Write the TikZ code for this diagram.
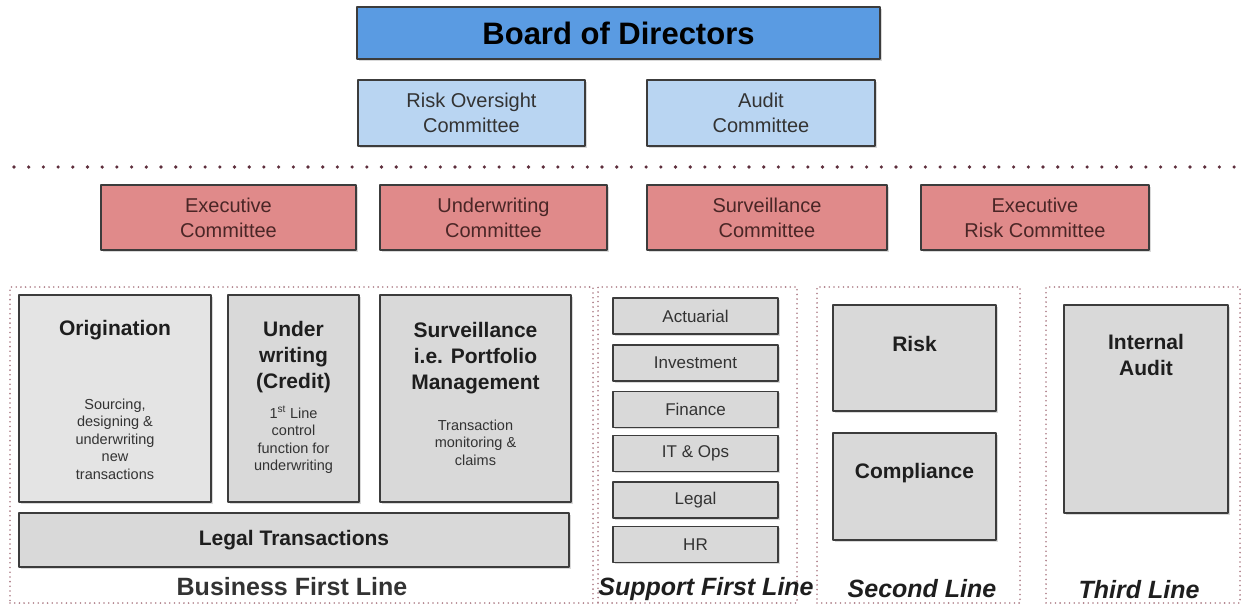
\documentclass[tikz,border=0pt]{standalone}
\usepackage{fontspec}
\setmainfont{Liberation Sans}
\usepackage{tikz}
\usetikzlibrary{shadows}
\newcommand{\fs}[2]{\fontsize{#1}{#2}\selectfont}
\definecolor{ink}{HTML}{1E1E1E}
\definecolor{inksoft}{HTML}{333333}
\definecolor{inkred}{HTML}{4A2626}
\definecolor{edge}{HTML}{3C3C3C}
\definecolor{board}{HTML}{5A9BE2}
\definecolor{boardsoft}{HTML}{B9D5F2}
\definecolor{execred}{HTML}{E08A8A}
\definecolor{boxgray}{HTML}{D9D9D9}
\definecolor{boxlight}{HTML}{E4E4E4}
\definecolor{dotred}{HTML}{5E2E3C}
\definecolor{dotsoft}{HTML}{AC7C86}

\begin{document}
\begin{tikzpicture}[x=1pt, y=-1pt, line join=round,
    unit/.style={draw=edge, line width=1.2pt, inner sep=0pt, fill=boxgray,
                 drop shadow={shadow xshift=1.5pt, shadow yshift=-1.5pt, opacity=0.3}},
    bod/.style={unit, fill=board, minimum width=523pt, minimum height=52pt,
                font=\bfseries\fs{31}{36}, text=black},
    oversight/.style={unit, fill=boardsoft, minimum width=227pt, minimum height=66pt,
                align=center, font=\fs{20}{25}, text=inksoft},
    committee/.style={unit, fill=execred, minimum height=65pt,
                align=center, font=\fs{20}{25}, text=inkred},
    subunit/.style={unit, minimum width=165pt, minimum height=36pt,
                font=\fs{17}{20}, text=inksoft},
    group/.style={draw=dotsoft, line width=1.8pt, dash pattern=on 0pt off 4.7pt,
                line cap=round, inner sep=0pt},
    head/.style={align=center, inner sep=0pt, font=\bfseries\fs{21}{26}, text=ink},
    note/.style={align=center, inner sep=0pt, font=\fs{14.5}{17.5}, text=inksoft},
    lbl/.style={inner sep=0pt, font=\bfseries\itshape\fs{25}{30}, text=ink}]
  \useasboundingbox (0,0) rectangle (1242,605);

  % board level
  \node[bod] (board) at (618.5,33) {Board of Directors};
  \node[oversight] (roc) at (471.5,113) {Risk Oversight\\Committee};
  \node[oversight, minimum width=228pt] (auc) at (761,113) {Audit\\Committee};
  \draw[dotred, line width=3.6pt, dash pattern=on 0pt off 14.7pt, line cap=round]
    (14,167) -- (1238,167);

  % management committees
  \node[committee, minimum width=255pt] (exc) at (228.5,217.5) {Executive\\Committee};
  \node[committee, minimum width=227pt] (uwc) at (493.5,217.5) {Underwriting\\Committee};
  \node[committee, minimum width=240pt] (svc) at (767,217.5) {Surveillance\\Committee};
  \node[committee, minimum width=228pt] (erc) at (1035,217.5) {Executive\\Risk Committee};

  % lines of defence
  \node[group, minimum width=583pt, minimum height=316pt] (bfl) at (301.5,445) {};
  \node[group, minimum width=199pt, minimum height=316pt] (sfl) at (697.5,445) {};
  \node[group, minimum width=203pt, minimum height=316pt] (scl) at (918.5,445) {};
  \node[group, minimum width=194pt, minimum height=316pt] (thl) at (1143,445) {};

  % business first line
  \node[unit, fill=boxlight, minimum width=192pt, minimum height=207pt] (orig) at (115,398.5) {};
  \node[head] (origt) at (115,330) {Origination};
  \node[note] (origd) at (115,439) {Sourcing,\\designing \&\\underwriting\\new\\transactions};
  \node[unit, minimum width=131pt, minimum height=207pt] (uwr) at (293.5,398.5) {};
  \node[head] (uwrt) at (293.5,357) {Under\\writing\\(Credit)};
  \node[note] (uwrd) at (293.5,440) {1\textsuperscript{st} Line\\control\\function for\\underwriting};
  \node[unit, minimum width=191pt, minimum height=207pt] (surv) at (475.5,398.5) {};
  \node[head] (survt) at (475.5,358) {Surveillance\\i.e. Portfolio\\Management};
  \node[note] (survd) at (475.5,442.5) {Transaction\\monitoring \&\\claims};
  \node[unit, minimum width=550pt, minimum height=54pt, font=\bfseries\fs{21}{26}, text=ink]
    (legt) at (294,540) {Legal Transactions};
  \node[lbl, font=\bfseries\fs{25}{30}, text=inksoft] (bfll) at (292,587) {Business First Line};

  % support first line
  \foreach \y/\nm/\txt in {316/act/Actuarial, 363/inv/Investment, 409.5/fin/Finance,
      453.5/ito/IT \& Ops, 500/leg/Legal, 544.5/hr/HR}
    \node[subunit] (\nm) at (695.5,\y) {\txt};
  \node[lbl] (sfll) at (706,589) {Support First Line};

  % second and third line
  \node[unit, minimum width=163pt, minimum height=106pt] (risk) at (914.5,358) {};
  \node[head] (riskt) at (914.5,344) {Risk};
  \node[unit, minimum width=163pt, minimum height=107pt] (comp) at (914.5,486.5) {};
  \node[head] (compt) at (914.5,473) {Compliance};
  \node[lbl] (scll) at (922,589) {Second Line};
  \node[unit, minimum width=164pt, minimum height=208pt] (ia) at (1146,409) {};
  \node[head] (iat) at (1146,354.5) {Internal\\Audit};
  \node[lbl] (thll) at (1139,590) {Third Line};
\end{tikzpicture}
\end{document}
